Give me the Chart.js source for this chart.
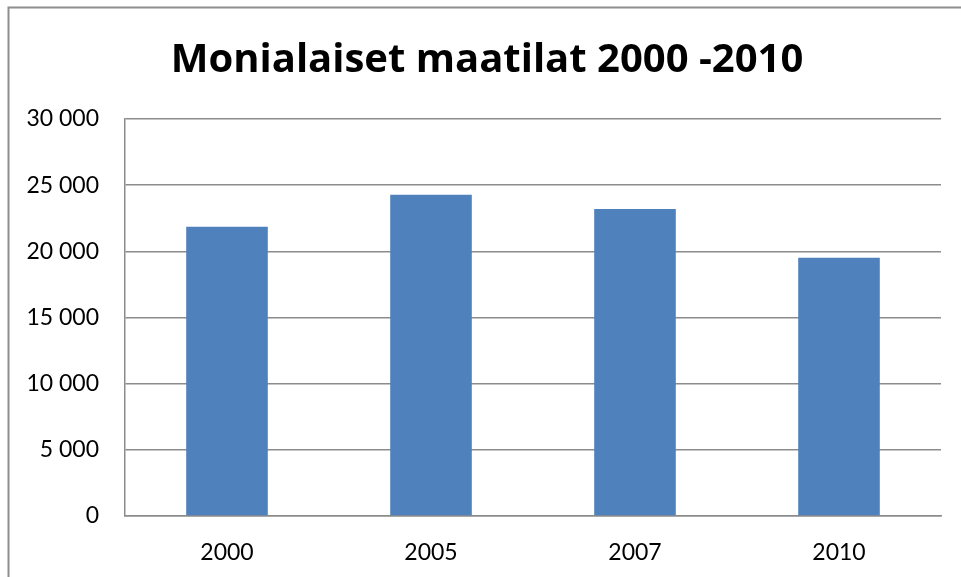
<!DOCTYPE html>
<html>
<head>
<meta charset="utf-8">
<title>Monialaiset maatilat 2000 -2010</title>
<script src="https://cdn.jsdelivr.net/npm/chart.js@4/dist/chart.umd.min.js"></script>
<style>
	html, body { margin: 0; padding: 0; background: #fff; overflow: hidden; }
	#wrap { position: absolute; left: 0; top: 0; width: 961px; height: 577px; }
</style>
</head>
<body>
<div id="wrap"><canvas id="chart_bar" width="961" height="577"></canvas></div>
<script>
	'use strict';

	/* =========== Data ================= */
	var years = ['2000', '2005', '2007', '2010'];
	var farms = [21850, 24280, 23200, 19520];
	var yTickLabels = ['0', '5 000', '10 000', '15 000', '20 000', '25 000', '30 000'];
	/* ------------------------------------------------ */

	var lineGray = '#8c8c8c';
	var fontFamily = 'Lato, "Open Sans", sans-serif';

	// outer frame of the chart object (cropped on the right and bottom),
	// title centred on that frame rather than on the canvas
	var framePlugin = {
		id: 'frame',
		afterLayout: function (chart) {
			if (chart.titleBlock) {
				chart.titleBlock.left = 13;
				chart.titleBlock.right = 961;
			}
		},
		beforeDraw: function (chart) {
			var c = chart.ctx;
			c.save();
			c.strokeStyle = '#8e8e8e';
			c.lineWidth = 2;
			c.beginPath();
			c.moveTo(8.5, 1000);
			c.lineTo(8.5, 7.5);
			c.lineTo(1000, 7.5);
			c.stroke();
			c.restore();
		}
	};

	var ctx = document.getElementById('chart_bar');
	var chart_bar = new Chart(ctx, {
		type: 'bar',
		data: {
			labels: years,
			datasets: [{
				label: 'Monialaiset maatilat',
				data: farms,
				backgroundColor: '#4F81BD',
				borderWidth: 0,
				categoryPercentage: 1,
				barPercentage: 0.4
			}]
		},
		options: {
			responsive: false,
			animation: false,
			layout: {
				padding: { left: 0, right: 20, top: 0, bottom: 0 }
			},
			plugins: {
				legend: { display: false },
				tooltip: { enabled: false },
				title: {
					display: true,
					text: 'Monialaiset maatilat 2000 -2010',
					color: '#000',
					align: 'center',
					font: { family: '"Open Sans", sans-serif', size: 40, weight: 'bold', lineHeight: 1.2 },
					padding: { top: 37, bottom: 34 }
				}
			},
			scales: {
				x: {
					grid: { display: false },
					border: { display: true, color: lineGray, width: 1.5 },
					ticks: {
						color: '#000',
						padding: 15,
						font: { family: fontFamily, size: 23 }
					},
					afterFit: function (scale) { scale.height = 61; }
				},
				y: {
					min: 0,
					max: 30000,
					grid: { color: lineGray, lineWidth: 1.5, drawTicks: false },
					border: { display: true, color: lineGray, width: 1.5 },
					ticks: {
						stepSize: 5000,
						color: '#000',
						padding: 26,
						font: { family: fontFamily, size: 23 },
						callback: function (value, index) { return yTickLabels[index]; }
					},
					afterFit: function (scale) { scale.width = 125; }
				}
			}
		},
		plugins: [framePlugin]
	});
</script>
</body>
</html>
